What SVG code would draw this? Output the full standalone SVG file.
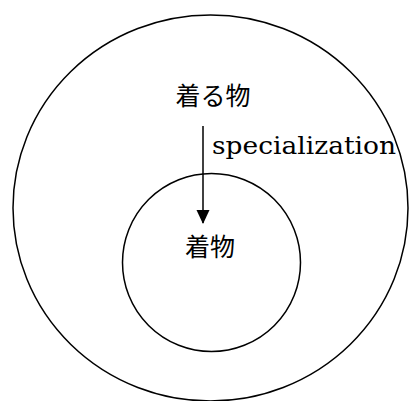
<svg xmlns="http://www.w3.org/2000/svg" width="409" height="401" viewBox="0 0 409 401">
<style>
.shape{fill:none;stroke:#000;stroke-width:1.5}
.jp{font-family:"Noto Sans CJK JP","Noto Sans",sans-serif;font-size:25px;fill:#000;text-anchor:middle}
.lbl{font-family:"DejaVu Serif","Liberation Serif",serif;font-size:25px;fill:#000}
</style>
<defs>
<marker id="arrow" markerWidth="14" markerHeight="15" refX="14" refY="7" orient="auto" markerUnits="userSpaceOnUse" viewBox="0 0 15 14">
<path d="M0,0 L15,7 L0,14 Z" fill="#000"/>
</marker>
</defs>
<rect width="409" height="401" fill="#fff"/>
<g id="outer">
<ellipse class="shape" cx="210.5" cy="208" rx="197.5" ry="193"/>
<text class="jp" x="213" y="105">着る物</text>
</g>
<g id="inner">
<circle class="shape" cx="211.5" cy="262.5" r="89"/>
<text class="jp" x="210" y="256">着物</text>
</g>
<g id="connectors">
<line x1="203" y1="126" x2="203" y2="223" stroke="#000" stroke-width="1.5" marker-end="url(#arrow)"/>
<text class="lbl" x="212" y="154" textLength="184" lengthAdjust="spacingAndGlyphs">specialization</text>
</g>
</svg>
